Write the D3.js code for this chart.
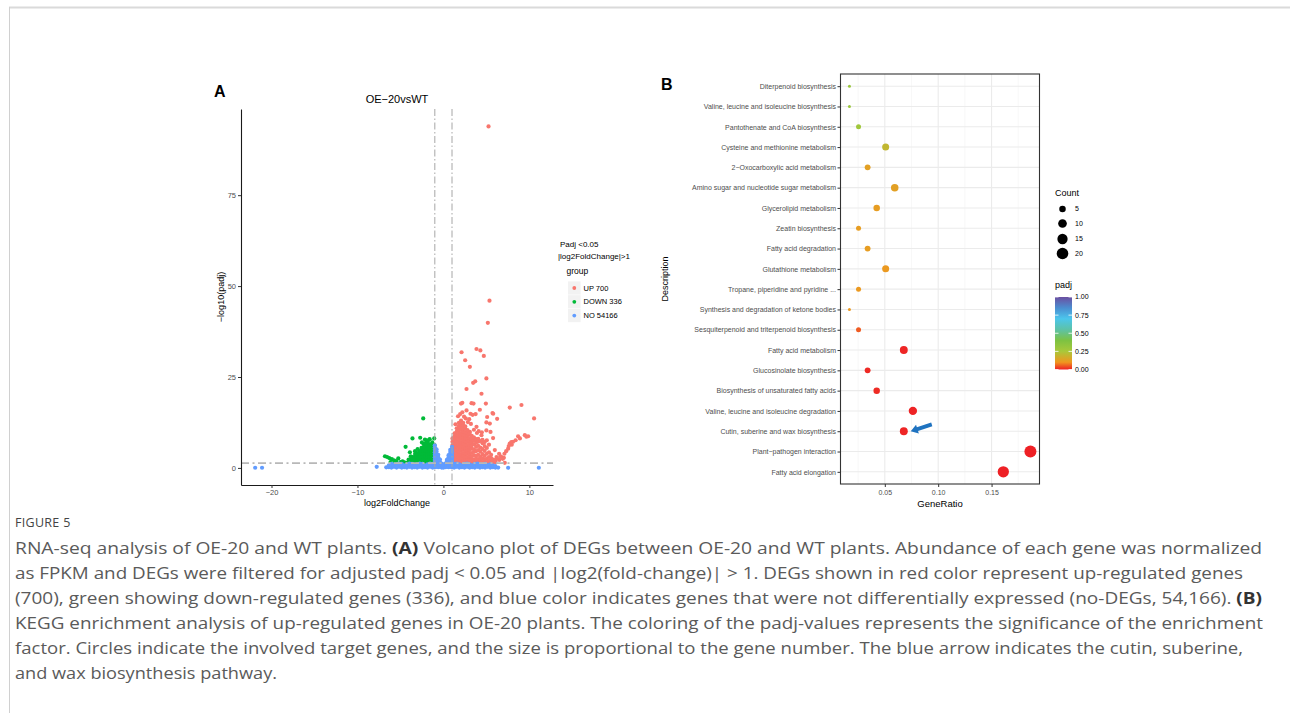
<!DOCTYPE html>
<html>
<head>
<meta charset="utf-8">
<script src="https://cdn.jsdelivr.net/npm/d3@7"></script>
<style>
  html, body { margin: 0; padding: 0; background: #fff; }
  svg { display: block; }
</style>
</head>
<body>
<svg id="fig" width="1290" height="713"></svg>
<script>
// ---------------- Panel A: volcano plot data ----------------
const volcanoTitle = "OE\u221220vsWT";
const volcanoXTicks = [-20, -10, 0, 10];
const volcanoYTicks = [0, 25, 50, 75];
const fcCutoff = 1;
const padjCutoff = 0.05;
const groupLabels = ["UP 700", "DOWN 336", "NO 54166"];
const groupColors = ["#F8766D", "#00BA38", "#619CFF"];

// up-regulated genes: isolated points [log2FoldChange, -log10(padj)]
const upScatter = [
  [5.25, 93.9], [5.36, 46.0], [5.17, 39.9], [2.11, 31.8], [3.85, 32.7], [4.3, 32.3],
  [4.7, 30.8], [2.53, 29.6], [3.08, 27.8], [5.0, 24.6], [3.46, 23.4], [3.7, 23.8],
  [2.69, 21.7], [4.43, 20.4], [2.05, 17.7], [2.2, 17.9], [3.27, 17.8], [3.5, 17.7],
  [4.94, 17.7], [7.72, 16.6], [9.08, 17.3], [4.24, 16.0], [5.71, 15.1], [2.69, 15.8],
  [3.15, 14.9], [3.4, 14.6], [3.75, 14.8], [5.09, 14.0], [6.25, 13.5], [10.55, 13.6],
  [5.0, 12.5], [4.47, 9.8], [5.48, 9.9], [5.78, 8.2], [8.69, 8.7], [9.47, 9.0],
  [9.86, 8.7], [8.9, 8.1], [7.72, 6.7], [7.95, 6.4], [7.53, 5.3], [7.3, 4.6],
  [7.1, 3.9], [6.76, 3.0], [6.18, 3.0], [7.14, 1.4], [6.5, 2.2], [6.9, 2.5],
  [7.6, 6.0], [8.1, 7.2], [8.4, 7.6], [5.98, 4.9], [6.48, 3.9], [6.25, 2.6],
  [7.03, 2.8], [4.43, 9.0], [5.0, 10.3], [5.4, 12.2], [3.85, 11.3], [3.08, 9.9],
  [1.7, 14.2], [1.95, 14.8], [2.2, 15.3], [2.4, 14.1], [2.6, 13.6], [1.4, 12.0],
  [2.85, 12.6], [3.0, 13.4], [3.2, 12.1], [3.55, 10.5], [3.9, 9.6], [4.1, 10.1],
  [5.79, 14.9], [9.66, 8.6], [7.9, 7.1], [6.64, 3.2], [5.79, 2.1]
];
// up-regulated genes: dense cloud, listed as [log2FoldChange, [-log10(padj) ...]]
const upColumns = [
  [1.05, [1.5, 2.2, 3.0, 3.9, 4.6, 5.5, 6.3, 7.2, 8.1]],
  [1.3, [1.4, 2.1, 2.9, 3.6, 4.4, 5.2, 6.0, 6.9, 7.7, 8.6, 9.5]],
  [1.55, [1.6, 2.4, 3.3, 4.1, 4.9, 5.8, 6.6, 7.4, 8.3, 9.1, 10.0, 10.9]],
  [1.8, [1.5, 2.3, 3.1, 3.9, 4.7, 5.6, 6.4, 7.3, 8.1, 8.9, 9.8, 10.6, 11.5, 12.4]],
  [2.05, [1.4, 2.2, 3.0, 3.8, 4.7, 5.5, 6.3, 7.1, 8.0, 8.8, 9.6, 10.5, 11.3, 12.1, 13.0]],
  [2.3, [1.6, 2.5, 3.3, 4.1, 5.0, 5.8, 6.6, 7.5, 8.3, 9.1, 10.0, 10.8, 11.7, 12.4]],
  [2.55, [1.5, 2.3, 3.1, 4.0, 4.8, 5.6, 6.5, 7.3, 8.1, 9.0, 9.8, 10.7, 11.4]],
  [2.8, [1.4, 2.2, 3.0, 3.9, 4.7, 5.5, 6.3, 7.2, 8.0, 8.9, 9.7, 10.4]],
  [3.05, [1.6, 2.4, 3.2, 4.0, 4.9, 5.7, 6.6, 7.4, 8.2, 9.3]],
  [3.3, [1.5, 2.3, 3.2, 4.1, 5.3, 6.2, 7.0, 7.9, 8.8]],
  [3.55, [1.4, 2.2, 3.4, 4.4, 5.1, 6.5, 7.6, 8.4]],
  [3.8, [1.6, 2.5, 3.3, 4.6, 5.8, 6.9, 7.9]],
  [4.05, [1.5, 2.4, 3.6, 4.9, 6.1, 7.2, 8.0]],
  [4.3, [1.4, 2.3, 3.1, 4.5, 5.6, 7.4]],
  [4.55, [1.6, 2.6, 3.8, 5.2, 6.8, 7.7]],
  [4.8, [1.5, 2.2, 3.3, 4.7, 6.0, 7.1]],
  [5.05, [1.4, 2.5, 3.9, 5.5, 7.6]],
  [5.3, [1.6, 2.1, 3.0, 4.3, 6.4]],
  [5.55, [1.5, 2.7, 3.6]],
  [5.8, [1.4, 2.3]],
  [6.05, [1.6, 2.0]]
];

// down-regulated genes
const downScatter = [
  [-2.35, 13.6], [-1.07, 8.1], [-2.15, 7.8], [-2.7, 8.3], [-3.6, 8.1], [-4.4, 5.8],
  [-6.8, 3.2], [-6.55, 3.0], [-6.3, 2.7], [-6.0, 2.4], [-5.75, 2.1], [-5.5, 1.9],
  [-5.25, 2.6], [-5.0, 1.6], [-4.75, 1.8], [-4.55, 1.5], [-6.15, 1.6], [-5.6, 1.4],
  [-1.6, 7.9], [-1.9, 7.6], [-2.5, 7.0], [-3.0, 5.2], [-3.3, 4.6], [-3.9, 4.3], [-2.0, 7.0]
];
const downColumns = [
  [-1.05, [1.5, 2.3, 3.1, 3.9, 4.7, 5.5, 6.3]],
  [-1.3, [1.4, 2.2, 3.0, 3.8, 4.6, 5.4, 6.2, 7.0]],
  [-1.55, [1.6, 2.4, 3.2, 4.0, 4.8, 5.6, 6.4]],
  [-1.8, [1.5, 2.3, 3.1, 3.9, 4.7, 5.5, 6.3, 7.1]],
  [-2.05, [1.4, 2.2, 3.0, 3.8, 4.6, 5.4, 6.2]],
  [-2.3, [1.6, 2.4, 3.2, 4.0, 4.8, 5.7, 6.6]],
  [-2.55, [1.5, 2.3, 3.1, 3.9, 4.7, 5.5]],
  [-2.8, [1.4, 2.2, 3.0, 3.8, 4.6]],
  [-3.05, [1.6, 2.4, 3.2, 4.0]],
  [-3.3, [1.5, 2.3, 3.1, 3.8]],
  [-3.55, [1.4, 2.2, 3.0]],
  [-3.8, [1.6, 2.4, 3.2]],
  [-4.05, [1.5, 2.3]],
  [-4.3, [1.4]]
];

// genes not differentially expressed
const noScatter = [
  [-21.9, 0.05], [-21.1, 0.05], [-7.76, 0.3], [-6.65, 0.15], [6.37, 0.1], [7.53, 0.05], [11.1, 0.05]
];
const noColumns = [
  [-6.35, [0.2, 0.7]], [-6.05, [0.1, 0.6, 1.1]], [-5.75, [0.3, 0.9]], [-5.45, [0.1, 0.5, 1.0]],
  [-5.15, [0.3, 0.8, 1.2]], [-4.85, [0.1, 0.6, 1.1]], [-4.55, [0.2, 0.7]], [-4.25, [0.1, 0.5, 1.0]],
  [-3.95, [0.3, 0.8, 1.2]], [-3.65, [0.1, 0.6, 1.1]], [-3.35, [0.2, 0.7]], [-3.05, [0.1, 0.5, 1.0]],
  [-2.75, [0.3, 0.8, 1.2]], [-2.45, [0.1, 0.6, 1.1]], [-2.15, [0.2, 0.7]], [-1.85, [0.1, 0.5, 1.0]],
  [-1.55, [0.3, 0.8, 1.2]], [-1.25, [0.1, 0.6, 1.1]],
  [-1.0, [0.2, 0.8, 1.5, 2.2, 2.9, 3.6, 4.3, 5.0, 5.7, 6.2]],
  [-0.8, [0.3, 0.9, 1.6, 2.3, 3.0, 3.7, 4.5, 5.1]],
  [-0.6, [0.2, 0.8, 1.5, 2.2, 2.9, 3.6]],
  [-0.4, [0.3, 0.9, 1.6, 2.3]],
  [-0.2, [0.1, 0.7, 1.2]],
  [0.0, [0.1, 0.4]],
  [0.2, [0.2, 0.8, 1.2]],
  [0.4, [0.3, 0.9, 1.6, 2.2]],
  [0.6, [0.2, 0.8, 1.5, 2.2, 2.9, 3.5]],
  [0.8, [0.3, 0.9, 1.6, 2.3, 3.0, 3.7, 4.4, 5.0]],
  [1.0, [0.2, 0.8, 1.5, 2.2, 2.9, 3.6, 4.3, 5.0, 5.8]],
  [1.25, [0.1, 0.6, 1.1]], [1.55, [0.3, 0.8, 1.2]], [1.85, [0.1, 0.5, 1.0]], [2.15, [0.2, 0.7]],
  [2.45, [0.1, 0.6, 1.1]], [2.75, [0.3, 0.8, 1.2]], [3.05, [0.1, 0.5, 1.0]], [3.35, [0.2, 0.7]],
  [3.65, [0.1, 0.6, 1.1]], [3.95, [0.3, 0.8, 1.2]], [4.25, [0.1, 0.5, 1.0]], [4.55, [0.2, 0.7]],
  [4.85, [0.1, 0.6, 1.1]], [5.15, [0.3, 0.8]], [5.45, [0.1, 0.5, 1.0]], [5.75, [0.2, 0.7]],
  [6.05, [0.1, 0.5]]
];

// ---------------- Panel B: KEGG enrichment data ----------------
const keggTerms = [
  "Diterpenoid biosynthesis",
  "Valine, leucine and isoleucine biosynthesis",
  "Pantothenate and CoA biosynthesis",
  "Cysteine and methionine metabolism",
  "2\u2212Oxocarboxylic acid metabolism",
  "Amino sugar and nucleotide sugar metabolism",
  "Glycerolipid metabolism",
  "Zeatin biosynthesis",
  "Fatty acid degradation",
  "Glutathione metabolism",
  "Tropane, piperidine and pyridine ...",
  "Synthesis and degradation of ketone bodies",
  "Sesquiterpenoid and triterpenoid biosynthesis",
  "Fatty acid metabolism",
  "Glucosinolate biosynthesis",
  "Biosynthesis of unsaturated fatty acids",
  "Valine, leucine and isoleucine degradation",
  "Cutin, suberine and wax biosynthesis",
  "Plant\u2212pathogen interaction",
  "Fatty acid elongation"
];
const keggRatio = [0.0169, 0.0169, 0.0254, 0.0508, 0.0339, 0.0593, 0.0424, 0.0254, 0.0339, 0.0508,
                   0.0254, 0.0169, 0.0254, 0.0678, 0.0339, 0.0424, 0.0763, 0.0678, 0.1864, 0.1610];
const keggCount = [2, 2, 3, 6, 4, 7, 5, 3, 4, 6, 3, 2, 3, 8, 4, 5, 9, 8, 22, 19];
const keggPadj = [0.30, 0.30, 0.28, 0.20, 0.13, 0.13, 0.12, 0.12, 0.12, 0.11,
                  0.11, 0.11, 0.05, 0.006, 0.008, 0.01, 0.003, 0.005, 0.001, 0.0005];
const ratioTicks = [0.05, 0.10, 0.15];
const ratioMinor = [0.025, 0.075, 0.125, 0.175];
const countBreaks = [5, 10, 15, 20];
const padjBreaks = [1.00, 0.75, 0.50, 0.25, 0.00];
const padjStops = [0, 0.1, 0.25, 0.4, 0.55, 0.7, 0.85, 1];
const padjPalette = ["#EE1F25", "#F0961E", "#A9C83A", "#7DC242", "#5DC2A6", "#4CC6EC", "#4B8DD0", "#6B4FA1"];
const highlightTerm = "Cutin, suberine and wax biosynthesis";

// ---------------- Caption ----------------
const figureLabel = "FIGURE 5";
const captionLines = [
  [["RNA-seq analysis of OE-20 and WT plants. ", 0], ["(A)", 1], [" Volcano plot of DEGs between OE-20 and WT plants. Abundance of each gene was normalized", 0]],
  [["as FPKM and DEGs were filtered for adjusted padj < 0.05 and |log2(fold-change)| > 1. DEGs shown in red color represent up-regulated genes", 0]],
  [["(700), green showing down-regulated genes (336), and blue color indicates genes that were not differentially expressed (no-DEGs, 54,166). ", 0], ["(B)", 1]],
  [["KEGG enrichment analysis of up-regulated genes in OE-20 plants. The coloring of the padj-values represents the significance of the enrichment", 0]],
  [["factor. Circles indicate the involved target genes, and the size is proportional to the gene number. The blue arrow indicates the cutin, suberine,", 0]],
  [["and wax biosynthesis pathway.", 0]]
];

// ================= drawing =================
const PLOT_FONT = "'Liberation Sans', Arial, Helvetica, sans-serif";
const AXIS_TEXT = "#4D4D4D";
const svg = d3.select("#fig");
svg.append("rect").attr("width", 1290).attr("height", 713).attr("fill", "#fff");

// card frame
svg.append("line").attr("x1", 9).attr("x2", 1290).attr("y1", 7.5).attr("y2", 7.5)
  .attr("stroke", "#dadada").attr("stroke-width", 2);
svg.append("line").attr("x1", 9.5).attr("x2", 9.5).attr("y1", 7).attr("y2", 713)
  .attr("stroke", "#d0d0d0").attr("stroke-width", 1);

// ---------- Panel A ----------
const gA = svg.append("g").attr("font-family", PLOT_FONT);
const vx = d3.scaleLinear().domain([-23.55, 12.75]).range([241, 553]);
const vy = d3.scaleLinear().domain([-4.7, 98.7]).range([485, 109]);

const flatten = cols => cols.flatMap(([x, ys]) => ys.map(y => [x, y]));
const upPts = upScatter.concat(flatten(upColumns));
const downPts = downScatter.concat(flatten(downColumns));
const noPts = noScatter.concat(flatten(noColumns));

gA.append("text").attr("x", 214).attr("y", 97).attr("font-size", 16).attr("font-weight", "bold").text("A");
gA.append("text").attr("x", (vx.range()[0] + vx.range()[1]) / 2).attr("y", 103)
  .attr("text-anchor", "middle").attr("font-size", 11).text(volcanoTitle);

[[upPts, 0], [downPts, 1], [noPts, 2]].forEach(([pts, gi]) => {
  gA.append("g").selectAll("circle").data(pts).join("circle")
    .attr("cx", d => vx(d[0])).attr("cy", d => vy(d[1])).attr("r", 2.1)
    .attr("fill", groupColors[gi]);
});

// threshold lines
[-fcCutoff, fcCutoff].forEach(v => {
  gA.append("line").attr("x1", vx(v)).attr("x2", vx(v)).attr("y1", vy.range()[1]).attr("y2", vy.range()[0])
    .attr("stroke", "#a6a6a6").attr("stroke-width", 1).attr("stroke-dasharray", "7,2.5,1.5,2.5");
});
gA.append("line").attr("x1", vx.range()[0]).attr("x2", vx.range()[1])
  .attr("y1", vy(-Math.log10(padjCutoff))).attr("y2", vy(-Math.log10(padjCutoff)))
  .attr("stroke", "#b8b8b8").attr("stroke-width", 1.8).attr("stroke-dasharray", "8,3.5,2,3.5");

// axes
const axA_x = gA.append("g").attr("transform", `translate(0,${vy.range()[0]})`)
  .call(d3.axisBottom(vx).tickValues(volcanoXTicks).tickSize(3).tickSizeOuter(0).tickPadding(2));
const axA_y = gA.append("g").attr("transform", `translate(${vx.range()[0]},0)`)
  .call(d3.axisLeft(vy).tickValues(volcanoYTicks).tickSize(3).tickSizeOuter(0).tickPadding(2));
[axA_x, axA_y].forEach(ax => {
  ax.attr("font-family", PLOT_FONT).attr("font-size", 7.5);
  ax.select(".domain").attr("stroke", "#1a1a1a").attr("stroke-width", 1.1);
  ax.selectAll(".tick line").attr("stroke", "#333");
  ax.selectAll(".tick text").attr("fill", AXIS_TEXT);
});
gA.append("text").attr("x", (vx.range()[0] + vx.range()[1]) / 2).attr("y", 505.5)
  .attr("text-anchor", "middle").attr("font-size", 9).text("log2FoldChange");
gA.append("text").attr("transform", `translate(223.5,${(vy.range()[0] + vy.range()[1]) / 2}) rotate(-90)`)
  .attr("text-anchor", "middle").attr("font-size", 9).text("\u2212log10(padj)");

// legend A
const legA = gA.append("g");
legA.append("text").attr("x", 560).attr("y", 246.5).attr("font-size", 8).text("Padj <0.05");
legA.append("text").attr("x", 558).attr("y", 259).attr("font-size", 8).text("|log2FoldChange|>1");
legA.append("text").attr("x", 566.5).attr("y", 274).attr("font-size", 8.5).text("group");
groupLabels.forEach((lab, i) => {
  const cy = 288 + i * 13.8;
  legA.append("rect").attr("x", 568).attr("y", cy - 6.6).attr("width", 12.6).attr("height", 13.2).attr("fill", "#F2F2F2");
  legA.append("circle").attr("cx", 574.3).attr("cy", cy).attr("r", 1.9).attr("fill", groupColors[i]);
  legA.append("text").attr("x", 583.5).attr("y", cy).attr("dy", "0.35em").attr("font-size", 7.5).text(lab);
});

// ---------- Panel B ----------
const gB = svg.append("g").attr("font-family", PLOT_FONT);
const bx = d3.scaleLinear().domain([0.0085, 0.1949]).range([840.5, 1039.5]);
const by = d3.scalePoint().domain(keggTerms).range([74, 484]).padding(0.6);
const sizeNorm = d3.scaleLinear().domain([d3.min(keggCount), d3.max(keggCount)]).range([0, 1]);
const sizeRange = d3.scaleLinear().domain([0, 1]).range([1.5, 6]);
const radius = c => sizeRange(Math.sqrt(sizeNorm(c)));
const colorOf = d3.scaleLinear().domain(padjStops).range(padjPalette).interpolate(d3.interpolateRgb);

gB.append("text").attr("x", 661).attr("y", 90).attr("font-size", 16).attr("font-weight", "bold").text("B");

const [px0, px1] = bx.range();
const [py0, py1] = by.range();
gB.append("rect").attr("x", px0).attr("y", py0).attr("width", px1 - px0).attr("height", py1 - py0).attr("fill", "#fff");
gB.append("g").selectAll("line").data(ratioMinor).join("line")
  .attr("x1", d => bx(d)).attr("x2", d => bx(d)).attr("y1", py0).attr("y2", py1)
  .attr("stroke", "#F3F3F3").attr("stroke-width", 0.6);
gB.append("g").selectAll("line").data(ratioTicks).join("line")
  .attr("x1", d => bx(d)).attr("x2", d => bx(d)).attr("y1", py0).attr("y2", py1)
  .attr("stroke", "#EBEBEB").attr("stroke-width", 1.1);
gB.append("g").selectAll("line").data(keggTerms).join("line")
  .attr("x1", px0).attr("x2", px1).attr("y1", d => by(d)).attr("y2", d => by(d))
  .attr("stroke", "#EBEBEB").attr("stroke-width", 1.1);

const keggRows = keggTerms.map((t, i) => ({ term: t, ratio: keggRatio[i], count: keggCount[i], padj: keggPadj[i] }));
gB.append("g").selectAll("circle").data(keggRows).join("circle")
  .attr("cx", d => bx(d.ratio)).attr("cy", d => by(d.term)).attr("r", d => radius(d.count))
  .attr("fill", d => colorOf(d.padj));

gB.append("rect").attr("x", px0).attr("y", py0).attr("width", px1 - px0).attr("height", py1 - py0)
  .attr("fill", "none").attr("stroke", "#333").attr("stroke-width", 1.1);

const axB_x = gB.append("g").attr("transform", `translate(0,${py1})`)
  .call(d3.axisBottom(bx).tickValues(ratioTicks).tickFormat(d3.format(".2f")).tickSize(3).tickSizeOuter(0).tickPadding(3));
const axB_y = gB.append("g").attr("transform", `translate(${px0},0)`)
  .call(d3.axisLeft(by).tickSize(3).tickSizeOuter(0).tickPadding(1.5));
[axB_x, axB_y].forEach(ax => {
  ax.attr("font-family", PLOT_FONT).attr("font-size", 7);
  ax.select(".domain").remove();
  ax.selectAll(".tick line").attr("stroke", "#333");
  ax.selectAll(".tick text").attr("fill", AXIS_TEXT);
});
gB.append("text").attr("x", (px0 + px1) / 2).attr("y", 507).attr("text-anchor", "middle")
  .attr("font-size", 9.5).text("GeneRatio");
gB.append("text").attr("transform", `translate(668,${(py0 + py1) / 2}) rotate(-90)`)
  .attr("text-anchor", "middle").attr("font-size", 9).text("Description");

// arrow marking the highlighted pathway
{
  const row = keggRows.find(d => d.term === highlightTerm);
  const tipX = bx(row.ratio) + radius(row.count) + 3, tipY = by(row.term);
  const tailX = tipX + 21, tailY = tipY - 6.8;
  const len = Math.hypot(tailX - tipX, tailY - tipY);
  const ux = (tailX - tipX) / len, uy = (tailY - tipY) / len; // from tip toward tail
  const nx = -uy, ny = ux;
  const headL = 7, headW = 4.6, shaftW = 1.9;
  const p = (a, b) => `${(tipX + ux * a + nx * b).toFixed(2)},${(tipY + uy * a + ny * b).toFixed(2)}`;
  gB.append("polygon")
    .attr("points", [p(0, 0), p(headL, headW), p(headL, shaftW), p(len, shaftW), p(len, -shaftW), p(headL, -shaftW), p(headL, -headW)].join(" "))
    .attr("fill", "#1F73C0");
}

// legend: Count
const legB = gB.append("g");
legB.append("text").attr("x", 1055).attr("y", 196).attr("font-size", 9).text("Count");
const countY = [209, 223.5, 239, 253.5];
countBreaks.forEach((c, i) => {
  legB.append("circle").attr("cx", 1062.5).attr("cy", countY[i]).attr("r", radius(c)).attr("fill", "#000");
  legB.append("text").attr("x", 1075).attr("y", countY[i]).attr("dy", "0.35em").attr("font-size", 7).text(c);
});

// legend: padj colour bar
legB.append("text").attr("x", 1055).attr("y", 288).attr("font-size", 9).text("padj");
const barY = d3.scaleLinear().domain([0, 1]).range([369.5, 297]);
const grad = svg.append("defs").append("linearGradient").attr("id", "padjGrad")
  .attr("x1", 0).attr("y1", 1).attr("x2", 0).attr("y2", 0);
padjStops.forEach((s, i) => grad.append("stop").attr("offset", s).attr("stop-color", padjPalette[i]));
legB.append("rect").attr("x", 1055).attr("y", barY(1)).attr("width", 17).attr("height", barY(0) - barY(1))
  .attr("fill", "url(#padjGrad)");
padjBreaks.forEach(v => {
  legB.append("line").attr("x1", 1055).attr("x2", 1058.5).attr("y1", barY(v)).attr("y2", barY(v)).attr("stroke", "#fff").attr("stroke-width", 0.8);
  legB.append("line").attr("x1", 1068.5).attr("x2", 1072).attr("y1", barY(v)).attr("y2", barY(v)).attr("stroke", "#fff").attr("stroke-width", 0.8);
  legB.append("text").attr("x", 1075).attr("y", barY(v)).attr("dy", "0.35em").attr("font-size", 7).text(d3.format(".2f")(v));
});

// ---------- Caption ----------
const gC = svg.append("g").attr("font-family", "'Open Sans', Lato, sans-serif").attr("fill", "#5a5a5a");
gC.append("text").attr("x", 15).attr("y", 527).attr("font-size", 12.5).attr("fill", "#444")
  .attr("letter-spacing", 0.3).text(figureLabel);
const lineWidths = [1247, 1228, 1247, 1248, 1228, 262];
captionLines.forEach((segs, i) => {
  const t = gC.append("text").attr("x", 15).attr("y", 554 + i * 25).attr("font-size", 16.5)
    .attr("textLength", lineWidths[i]).attr("lengthAdjust", "spacingAndGlyphs");
  segs.forEach(([s, b]) => t.append("tspan").attr("font-weight", b ? 700 : 400)
    .attr("fill", b ? "#333" : null).text(s));
});
</script>
</body>
</html>
